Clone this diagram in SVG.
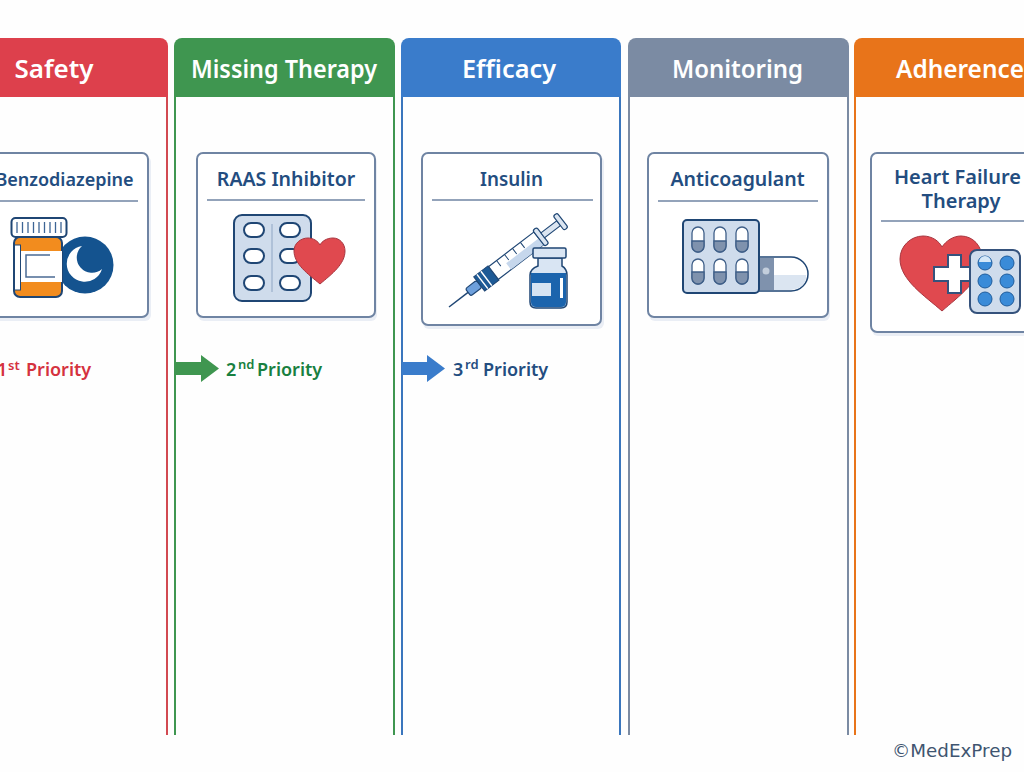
<svg xmlns="http://www.w3.org/2000/svg" width="1024" height="772" viewBox="0 0 1024 772">
<style>
text{font-family:"Noto Sans","Open Sans","Liberation Sans",sans-serif;font-weight:600}
.h{font-size:26px;fill:#fff;text-anchor:middle}
.t{font-size:19.500px;fill:#234d80;text-anchor:middle}
.p{font-size:18px}
.s{font-size:13px}
.card{fill:#fff;stroke:#6f84a3;stroke-width:2}
.sh{fill:#eaeef5}
.dv{stroke:#6f84a3;stroke-width:1.500}
.ink{stroke:#1f4674;stroke-width:2}
.fr{fill:none;stroke-width:2}
.pill{fill:#fff;stroke:#1f4674;stroke-width:2}
.hrt{fill:#e0494f;stroke:#a8363f;stroke-width:1}
</style>
<rect width="1024" height="772" fill="#fefefe"/>
<g id="col-safety">
<path d="M-10 38H160a8 8 0 0 1 8 8V97H-10Z" fill="#dd404c"/>
<path class="fr" d="M167 97V735" stroke="#d24a52"/>
<text class="h" x="54" y="78">Safety</text>
</g>
<g id="col-missing">
<path d="M174 46a8 8 0 0 1 8-8H387a8 8 0 0 1 8 8V97H174Z" fill="#3f9650"/>
<path class="fr" d="M175 97V735M394 97V735" stroke="#3f9650"/>
<text class="h" x="284" y="78" textLength="186" lengthAdjust="spacingAndGlyphs">Missing Therapy</text>
</g>
<g id="col-efficacy">
<path d="M401 46a8 8 0 0 1 8-8H613a8 8 0 0 1 8 8V97H401Z" fill="#3a7ccb"/>
<path class="fr" d="M402 97V735M620 97V735" stroke="#3a76bd"/>
<text class="h" x="509" y="78" textLength="94" lengthAdjust="spacingAndGlyphs">Efficacy</text>
</g>
<g id="col-monitoring">
<path d="M628 46a8 8 0 0 1 8-8H841a8 8 0 0 1 8 8V97H628Z" fill="#7b8ba3"/>
<path class="fr" d="M629 97V735M848 97V735" stroke="#7b8ba3"/>
<text class="h" x="737.500" y="78" textLength="131" lengthAdjust="spacingAndGlyphs">Monitoring</text>
</g>
<g id="col-adherence">
<path d="M854 46a8 8 0 0 1 8-8H1034V97H854Z" fill="#e8741a"/>
<path class="fr" d="M855 97V735" stroke="#e8741a"/>
<text class="h" x="960" y="78" textLength="128" lengthAdjust="spacingAndGlyphs">Adherence</text>
</g>
<g id="card-benzodiazepine">
<rect class="sh" x="-20" y="156" width="171" height="165" rx="6"/>
<rect class="card" x="-20" y="153" width="168" height="164" rx="6"/>
<text class="t" x="64.500" y="186" style="font-size:18px">Benzodiazepine</text>
<path class="dv" d="M-10 201H138"/>
<circle cx="85" cy="265" r="28.500" fill="#14538f"/>
<path d="M82 246a18 18 0 1 0 20 23a15 15 0 0 1-20-23Z" fill="#fff"/>
<rect class="ink" x="14" y="237" width="48" height="60" rx="6" fill="#f28c1e"/>
<rect x="21" y="251" width="41" height="31" fill="#fff"/>
<path d="M50 255H26V277H55" fill="none" stroke="#4b6b94" stroke-width="1.500"/>
<rect x="14.500" y="245" width="6" height="45" fill="#fff" stroke="#1f4674"/>
<rect class="ink" x="11.500" y="218" width="55" height="19" rx="4" fill="#fff" stroke-width="1.500"/>
<path d="M17 222V233M22.500 222V233M28 222V233M33.500 222V233M39 222V233M44.500 222V233M50 222V233M55.500 222V233M61 222V233" stroke="#3d6595" stroke-width="1.300"/>
</g>
<g id="card-raas">
<rect class="sh" x="198" y="156" width="179" height="165" rx="6"/>
<rect class="card" x="197" y="153" width="178" height="164" rx="6"/>
<text class="t" x="286" y="186">RAAS Inhibitor</text>
<path class="dv" d="M207 200H365"/>
<rect class="ink" x="234" y="215" width="77" height="86" rx="8" fill="#cfdcec"/>
<path d="M272 224V292" stroke="#8fa6c4" stroke-width="1"/>
<rect class="pill" x="244" y="223" width="20" height="14" rx="7"/>
<rect class="pill" x="280" y="223" width="20" height="14" rx="7"/>
<rect class="pill" x="244" y="249" width="20" height="14" rx="7"/>
<rect class="pill" x="280" y="249" width="20" height="14" rx="7"/>
<rect class="pill" x="244" y="276" width="20" height="14" rx="7"/>
<rect class="pill" x="280" y="276" width="20" height="14" rx="7"/>
<path class="hrt" d="M320 284C308 274 294 264 294 251C294 243 301 238 308 238C313 238 318 241 320 245C322 241 327 238 333 238C340 238 345 244 345 251C345 264 332 274 320 284Z"/>
</g>
<g id="card-insulin">
<rect class="sh" x="423" y="156" width="181" height="173" rx="6"/>
<rect class="card" x="422" y="153" width="179" height="172" rx="6"/>
<text class="t" x="511.500" y="186" style="font-size:18.800px">Insulin</text>
<path class="dv" d="M432 200H593"/>
<g transform="translate(449 307) rotate(-37.400)">
<path d="M0 0H26" stroke="#1f4674" stroke-width="1.500"/>
<rect x="24" y="-4.500" width="14" height="9" rx="2" fill="#6ea0dc" stroke="#1f4674" stroke-width="1.200"/>
<rect x="38" y="-9" width="18" height="18" fill="#1d5a96" stroke="#1f4674"/>
<path d="M42 -9V9M47 -9V9" stroke="#fff" stroke-width="1.500"/>
<rect x="56" y="-8" width="57" height="16" fill="#fff" stroke="#1f4674" stroke-width="1.200"/>
<rect x="72" y="0" width="41" height="8" fill="#c6d7ec"/>
<path d="M66 -8V-1M76 -8V-1M86 -8V-1M96 -8V-1" stroke="#1f4674"/>
<rect x="113" y="-10" width="5" height="20" rx="2" fill="#dbe5f1" stroke="#1f4674" stroke-width="1.200"/>
<rect x="118" y="-3" width="20" height="6" fill="#dbe5f1" stroke="#1f4674"/>
<rect x="138" y="-9" width="5" height="18" rx="2" fill="#dbe5f1" stroke="#1f4674" stroke-width="1.200"/>
</g>
<path d="M538 258H562V266Q567 269 567 275V302Q567 308 561 308H536Q530 308 530 302V275Q530 269 538 266Z" fill="#d9e5f3" stroke="#1f4674" stroke-width="1.500"/>
<path d="M531 273H566V302Q566 307 561 307H536Q531 307 531 302Z" fill="#1b64ad"/>
<rect x="533" y="248" width="33" height="10" rx="1.500" fill="#d9e5f3" stroke="#1f4674" stroke-width="1.500"/>
<rect x="532" y="283" width="19" height="13" fill="#d6e3f2"/>
<rect x="560" y="278" width="3" height="20" fill="#fff"/>
</g>
<g id="card-anticoagulant">
<rect class="sh" x="649" y="156" width="181" height="165" rx="6"/>
<rect class="card" x="648" y="153" width="180" height="164" rx="6"/>
<text class="t" x="737.500" y="186">Anticoagulant</text>
<path class="dv" d="M658 201H818"/>
<path d="M755 257H791a17 17 0 0 1 0 34H755Z" fill="#fff" stroke="#1f4674" stroke-width="1.500"/>
<path d="M774 275H806Q807 288 791 290H774Z" fill="#dbe5f1"/>
<rect x="756" y="258" width="18" height="32" fill="#7f92ad"/>
<circle cx="766" cy="271" r="3.500" fill="#c3cedc"/>
<rect class="ink" x="683" y="220" width="76" height="73" rx="4" fill="#cfdcec"/>
<g stroke="#3f5f88" stroke-width="1.300">
<rect x="692" y="227" width="12" height="25" rx="6" fill="#fff"/><path d="M692 241H704V246a6 6 0 0 1-12 0Z" fill="#7f92ad"/>
<rect x="714" y="227" width="12" height="25" rx="6" fill="#fff"/><path d="M714 241H726V246a6 6 0 0 1-12 0Z" fill="#7f92ad"/>
<rect x="736" y="227" width="12" height="25" rx="6" fill="#fff"/><path d="M736 241H748V246a6 6 0 0 1-12 0Z" fill="#7f92ad"/>
<rect x="692" y="259" width="12" height="25" rx="6" fill="#fff"/><path d="M692 272H704V278a6 6 0 0 1-12 0Z" fill="#7f92ad"/>
<rect x="714" y="259" width="12" height="25" rx="6" fill="#fff"/><path d="M714 272H726V278a6 6 0 0 1-12 0Z" fill="#7f92ad"/>
<rect x="736" y="259" width="12" height="25" rx="6" fill="#fff"/><path d="M736 272H748V278a6 6 0 0 1-12 0Z" fill="#7f92ad"/>
</g>
</g>
<g id="card-heart-failure">
<rect class="sh" x="872" y="156" width="170" height="180" rx="6"/>
<rect class="card" x="871" y="153" width="168" height="179" rx="6"/>
<text class="t" style="font-size:20px"><tspan x="957.500" y="184">Heart Failure</tspan><tspan x="961" y="208">Therapy</tspan></text>
<path class="dv" d="M881 221H1034"/>
<path class="hrt" d="M942 311C925 296 900 280 900 259C900 246 911 236 923 236C932 236 939 241 942 247C946 241 953 236 961 236C973 236 982 246 982 258C982 280 958 297 942 311Z" stroke="#8a3a47" stroke-width="1.500"/>
<path d="M948 255H961V267H974V281H961V293H948V281H934V267H948Z" fill="#fff" stroke="#35527c" stroke-width="2"/>
<rect x="970" y="250" width="50" height="63" rx="7" fill="#cfdcec" stroke="#35527c" stroke-width="2"/>
<g fill="#3a8bd8" stroke="#1f5c9c" stroke-width="1">
<circle cx="985" cy="263" r="7"/><circle cx="1007" cy="263" r="7"/>
<circle cx="985" cy="281" r="7"/><circle cx="1007" cy="281" r="7"/>
<circle cx="985" cy="299" r="7"/><circle cx="1007" cy="299" r="7"/>
</g>
<path d="M979 262a6 6 0 0 1 12 0Z" fill="#d5e8f8"/>
</g>
<g id="connectors">
<path d="M175 362H201V355L219 368.500L201 382V375H175Z" fill="#3f9650"/>
<path d="M402 362H427V355L445 368.500L427 382V375H402Z" fill="#3a7ccb"/>
</g>
<g id="priority-1"><text class="p" x="-3" y="376" fill="#d5323f">1<tspan class="s" x="8" y="370">st</tspan><tspan x="26" y="376">Priority</tspan></text></g>
<g id="priority-2"><text class="p" x="226" y="376" fill="#188040">2<tspan class="s" x="238" y="369">nd</tspan><tspan x="257" y="376">Priority</tspan></text></g>
<g id="priority-3"><text class="p" x="453" y="376" fill="#234d80">3<tspan class="s" x="465" y="369">rd</tspan><tspan x="483" y="376">Priority</tspan></text></g>
<g id="credit"><text x="892" y="757" font-size="17.500" style="font-weight:400;font-family:'DejaVu Sans',sans-serif" fill="#3f5570" textLength="120" lengthAdjust="spacingAndGlyphs">©MedExPrep</text></g>
</svg>
